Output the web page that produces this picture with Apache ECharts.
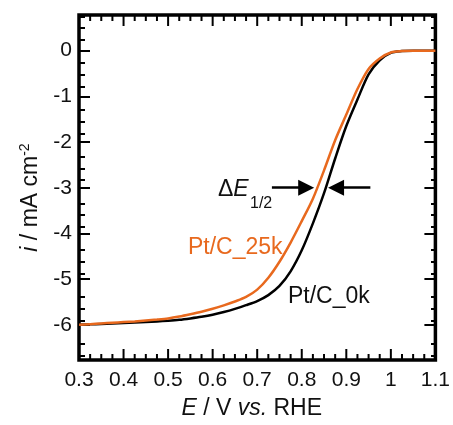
<!DOCTYPE html>
<html>
<head>
<meta charset="utf-8">
<script src="https://cdn.jsdelivr.net/npm/echarts@6/dist/echarts.min.js"></script>
<style>html,body{margin:0;padding:0;background:#fff}#c{width:453px;height:425px}</style>
</head>
<body>
<div id="c"></div>
<script>
// ---- data ----
const E     = [0.3,0.325,0.35,0.375,0.4,0.425,0.45,0.475,0.5,0.525,0.55,0.575,0.6,0.625,0.65,0.675,0.7,0.725,0.75,0.775,0.8,0.825,0.85,0.875,0.9,0.925,0.95,0.975,1.0,1.025,1.05,1.075,1.1];
const i_0k  = [-6.00,-5.99,-5.98,-5.97,-5.96,-5.95,-5.94,-5.925,-5.91,-5.89,-5.86,-5.825,-5.78,-5.72,-5.65,-5.57,-5.48,-5.35,-5.15,-4.83,-4.37,-3.78,-3.12,-2.36,-1.65,-1.07,-0.52,-0.21,-0.05,-0.01,0,0,0];
const i_25k = [-6.00,-5.985,-5.97,-5.955,-5.94,-5.925,-5.905,-5.885,-5.86,-5.82,-5.77,-5.715,-5.65,-5.575,-5.49,-5.39,-5.23,-4.97,-4.62,-4.20,-3.73,-3.24,-2.62,-1.96,-1.40,-0.84,-0.40,-0.17,-0.04,-0.01,0,0,0];
const xTicks = [0.3,0.4,0.5,0.6,0.7,0.8,0.9,1.0,1.1];
const yTicks = [-6,-5,-4,-3,-2,-1,0];
const seriesNames = ['Pt/C_0k','Pt/C_25k'];
const halfWave = [0.858, 0.829]; // arrow tips at i = -3 (0k, 25k)
const arrowTails = [0.954, 0.733];
const halfWaveCurrent = -3;

const FONT = "'Liberation Sans', Arial, Helvetica, sans-serif";
const ORANGE = '#E8691E';
const TXT = '#111';

const XMIN=xTicks[0], XMAX=xTicks[xTicks.length-1], XSTEP=0.1, YMIN=-6.77, YMAX=0.78;
const R = {left:79, right:16, top:15, bottom:57};
const MAJOR_LEN = 11, MINOR_LEN = 6;

function minors(major, step){
  const out=[];
  for(let k=0;k<major.length-1;k++){
    for(let j=1;j<4;j++) out.push(+(major[k]+j*step).toFixed(4));
  }
  return out;
}
const yMinor = minors([-7].concat(yTicks).concat([1]), 0.25).filter(v => v > YMIN+0.02 && v < YMAX-0.02);
const xMinor = minors(xTicks, 0.025);
// x frame ticks (drawn through the x scale by a custom series)
const xTickData = xTicks.filter(v => v > XMIN+0.001 && v < XMAX-0.001).map(v => [v, YMIN, MAJOR_LEN])
  .concat(xMinor.map(v => [v, YMIN, MINOR_LEN]));

function xAx(grid, pos){
  return {type:'value', gridIndex:grid, position:pos, min:XMIN, max:XMAX, interval:XSTEP,
    splitLine:{show:false}, axisLine:{show:false, onZero:false},
    axisTick:{show:false}, minorTick:{show:false}, axisLabel:{show:false}};
}
function yAx(grid, pos, vals, len){
  return {type:'value', gridIndex:grid, position:pos, min:YMIN, max:YMAX,
    splitLine:{show:false}, axisLine:{show:false, onZero:false},
    axisTick:{show:true, inside:true, length:len, customValues:vals, lineStyle:{color:'#000', width:2}},
    axisLabel:{show:false}};
}

const xAxes = [xAx(0,'bottom'), xAx(0,'top'), xAx(1,'bottom')];
const yAxes = [yAx(0,'left',yTicks,MAJOR_LEN), yAx(0,'right',yTicks,MAJOR_LEN), yAx(1,'left',yMinor,MINOR_LEN), yAx(1,'right',yMinor,MINOR_LEN)];

xAxes[0].axisLabel = {show:true, fontSize:21, fontFamily:FONT, color:TXT, margin:10,
  formatter: function(v){ return Math.abs(v-1)<1e-9 ? '1' : String(Math.round(v*10)/10); }};
xAxes[0].name = '{e|E} / V {v|vs.} RHE';
xAxes[0].nameLocation = 'middle';
xAxes[0].nameGap = 37;
xAxes[0].nameTextStyle = {fontSize:23, fontFamily:FONT, color:TXT, padding:[0,11,0,0],
  rich:{e:{fontStyle:'italic', fontSize:23, fontFamily:FONT, color:TXT}, v:{fontStyle:'italic', fontSize:23, fontFamily:FONT, color:TXT}}};

yAxes[0].axisLabel = {show:true, customValues:yTicks, fontSize:21, fontFamily:FONT, color:TXT, margin:7,
  formatter: function(v){ return String(Math.round(v)); }};
yAxes[0].name = '{i|i} / mA cm{s|-2}';
yAxes[0].nameLocation = 'middle';
yAxes[0].nameGap = 31;
yAxes[0].nameTextStyle = {fontSize:23, fontFamily:FONT, color:TXT, padding:[0,20,0,0],
  rich:{i:{fontStyle:'italic', fontSize:23, fontFamily:FONT, color:TXT}, s:{fontSize:14, fontFamily:FONT, color:TXT, verticalAlign:'top', padding:[0,0,12,0]}}};

const chart = echarts.init(document.getElementById('c'));
chart.setOption({
  animation:false,
  grid:[Object.assign({show:true, borderColor:'#000', borderWidth:3.5}, R), Object.assign({show:false}, R)],
  xAxis:xAxes,
  yAxis:yAxes,
  series:[
    {
      name:'xFrameTicks', type:'custom', xAxisIndex:0, yAxisIndex:0, silent:true, clip:false, z:5,
      encode:{x:0, y:1},
      data:xTickData,
      renderItem:function(params, api){
        const v = api.value(0), len = api.value(2);
        const pb = api.coord([v, YMIN]);
        const pt = api.coord([v, YMAX]);
        const st = {stroke:'#000', lineWidth:2};
        return {type:'group', children:[
          {type:'line', shape:{x1:pb[0], y1:pb[1], x2:pb[0], y2:pb[1]-len}, style:st},
          {type:'line', shape:{x1:pt[0], y1:pt[1], x2:pt[0], y2:pt[1]+len}, style:st}
        ]};
      }
    },
    {
      name:seriesNames[0], type:'line', xAxisIndex:0, yAxisIndex:0, showSymbol:false, smooth:0.3,
      data:E.map((e,k)=>[e,i_0k[k]]), lineStyle:{color:'#000', width:2.5},
      markLine:{
        silent:true, symbol:['none','triangle'], symbolSize:16, animation:false,
        lineStyle:{color:'#000', width:2.5, type:'solid'}, label:{show:false},
        data:[
          [{coord:[arrowTails[1], halfWaveCurrent]},{coord:[halfWave[1]-0.019, halfWaveCurrent]}],
          [{coord:[arrowTails[0], halfWaveCurrent]},{coord:[halfWave[0]+0.019, halfWaveCurrent]}]
        ]
      }
    },
    {
      name:seriesNames[1], type:'line', xAxisIndex:0, yAxisIndex:0, showSymbol:false, smooth:0.3,
      data:E.map((e,k)=>[e,i_25k[k]]), lineStyle:{color:ORANGE, width:2.5}
    }
  ],
  graphic:[
    {type:'text', left:188, top:236, style:{text:seriesNames[1], fontSize:23, fontFamily:FONT, fill:ORANGE}},
    {type:'text', left:288, top:285, style:{text:seriesNames[0], fontSize:23, fontFamily:FONT, fill:TXT}},
    {type:'text', left:218, top:178, style:{text:'{n|Δ}{e|E}', rich:{n:{fontSize:23, fontFamily:FONT, fill:TXT}, e:{fontSize:23, fontFamily:FONT, fontStyle:'italic', fill:TXT}}}},
    {type:'text', left:250, top:196, style:{text:'1/2', fontSize:16, fontFamily:FONT, fill:TXT}}
  ]
});
</script>
</body>
</html>
